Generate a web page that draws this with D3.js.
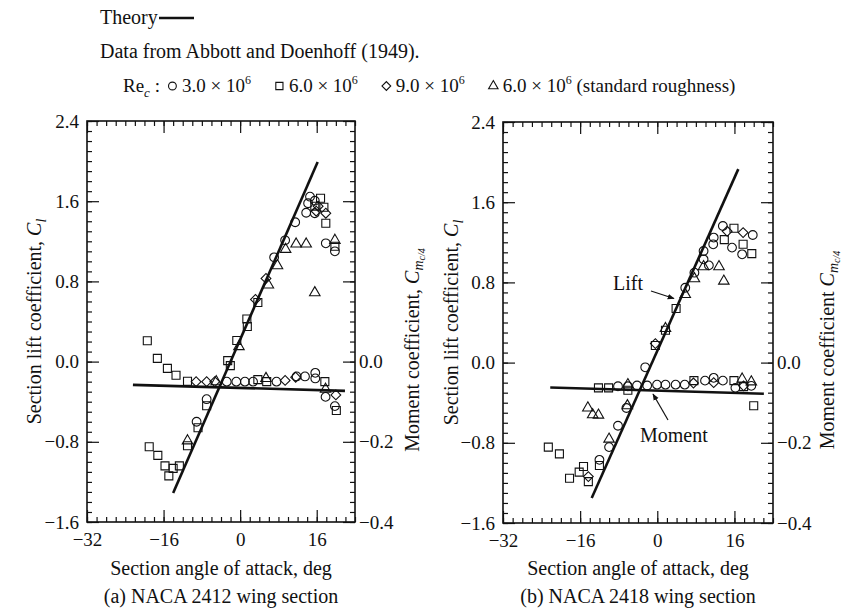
<!DOCTYPE html>
<html>
<head>
<meta charset="utf-8">
<script src="https://cdn.jsdelivr.net/npm/d3@7"></script>
<style>
  body { margin: 0; background: #fff; }
  svg text { font-family: "Liberation Serif", "Times New Roman", serif; fill: #111; white-space: pre; }
</style>
</head>
<body>
<svg id="chart" width="846" height="612"></svg>
<script>
// ---- axis definitions ----
const alphaDomain = [-32, 24];
const liftDomain = [-1.6, 2.4];
const momentDomain = [-0.4, 0.6];
const alphaTickLabels = [-32, -16, 0, 16];
const liftTickLabels = [2.4, 1.6, 0.8, 0.0, -0.8, -1.6];
const momentTickLabels = [0.0, -0.2, -0.4];
const momentMajorTicks = [0.6, 0.4, 0.2, 0.0, -0.2, -0.4];

// ---- legend ----
const reynoldsLabels = ["3.0", "6.0", "9.0", "6.0"];
const reynoldsSymbols = ["circle", "square", "diamond", "triangle"];

// ---- NACA 2412: theory (angle of attack, value) ----
const theory2412Lift = [[-14.0, -1.31], [16.2, 1.99]];
const theory2412Moment = [[-22.4, -0.058], [21.9, -0.073]];

// NACA 2412 lift coefficient data
const lift2412Re3 = [[-9.1, -0.60], [-7.0, -0.375], [7.1, 1.04], [9.4, 1.21], [11.5, 1.39], [13.8, 1.485],
  [14.2, 1.58], [14.6, 1.645], [15.6, 1.605], [15.6, 1.48], [17.9, 1.18], [19.8, 1.10]];
const lift2412Re6 = [[-19.0, -0.85], [-17.2, -0.935], [-15.7, -1.04], [-14.9, -1.14], [-14.0, -1.065],
  [-12.7, -1.04], [-11.0, -0.84], [-8.8, -0.66], [-7.0, -0.44], [-2.6, 0.01], [-2.05, -0.04],
  [-0.7, 0.21], [1.4, 0.425], [1.5, 0.35], [3.7, 0.59], [15.6, 1.55], [16.8, 1.63], [17.5, 1.54],
  [17.9, 1.38], [19.8, 1.15]];
const lift2412Re9 = [[3.2, 0.62], [5.4, 0.83], [15.9, 1.50], [16.3, 1.55], [17.9, 1.48]];
const lift2412Rough = [[-11.0, -0.79], [-0.25, 0.15], [5.9, 0.764], [7.8, 0.957], [9.5, 1.12],
  [11.7, 1.173], [13.8, 1.173], [15.6, 0.687], [19.8, 1.21]];

// NACA 2412 moment coefficient data
const moment2412Re3 = [[-2.8, -0.05], [-0.8, -0.05], [1.0, -0.05], [2.7, -0.05], [7.6, -0.05],
  [11.8, -0.037], [13.55, -0.037], [15.7, -0.028], [15.7, -0.042], [17.85, -0.088], [19.8, -0.111]];
const moment2412Re6 = [[-19.4, 0.052], [-17.3, 0.008], [-15.2, -0.017], [-13.4, -0.034], [-11.0, -0.049],
  [3.7, -0.045], [5.55, -0.05], [17.7, -0.05], [20.1, -0.122]];
const moment2412Re9 = [[-9.2, -0.05], [-7.0, -0.05], [-5.3, -0.05], [9.4, -0.047], [11.6, -0.039], [20.0, -0.083]];
const moment2412Rough = [[-5.0, -0.05], [5.4, -0.042], [17.85, -0.069]];

// ---- NACA 2418 ----
const theory2418Lift = [[-13.6, -1.35], [16.8, 1.93]];
const theory2418Moment = [[-22.2, -0.062], [22.1, -0.0775]];

const lift2418Re3 = [[-12.0, -0.97], [-10.0, -0.843], [-8.15, -0.63], [-6.4, -0.453], [-2.5, -0.047],
  [5.8, 0.747], [7.7, 0.897], [9.6, 1.03], [10.7, 0.97], [9.6, 1.113], [11.7, 1.247], [11.6, 1.18],
  [13.6, 1.363], [15.5, 1.147], [17.6, 1.08], [19.8, 1.273]];
const lift2418Re6 = [[-22.6, -0.843], [-20.3, -0.91], [-18.2, -1.153], [-16.2, -1.093], [-15.3, -1.037],
  [-14.3, -1.187], [-12.0, -1.027], [-0.4, 0.17], [1.7, 0.323], [3.9, 0.54], [13.9, 1.227],
  [15.9, 1.34], [17.8, 1.18], [19.6, 1.087]];
const lift2418Re9 = [[-14.3, -1.137], [-0.4, 0.19], [14.5, 1.31], [17.8, 1.297]];
const lift2418Rough = [[-10.0, -0.763], [-6.2, -0.43], [1.7, 0.34], [5.8, 0.68], [7.7, 0.837],
  [9.6, 0.957], [12.8, 0.957], [13.8, 0.813]];

const moment2418Re3 = [[-8.15, -0.059], [-6.1, -0.059], [-4.2, -0.057], [-2.1, -0.057], [-0.05, -0.055],
  [1.7, -0.055], [3.8, -0.055], [5.7, -0.055], [9.9, -0.045], [11.7, -0.038], [13.6, -0.045],
  [16.2, -0.063], [19.5, -0.058]];
const moment2418Re6 = [[-12.2, -0.063], [-10.1, -0.063], [-6.1, -0.069], [7.6, -0.045], [15.9, -0.045],
  [17.9, -0.06], [20.0, -0.1075]];
const moment2418Re9 = [[7.5, -0.051], [11.7, -0.05], [17.9, -0.058]];
const moment2418Rough = [[-14.4, -0.113], [-13.4, -0.13], [-12.2, -0.131], [-6.1, -0.055], [17.6, -0.041], [19.5, -0.048]];

const svg = d3.select("#chart");
const INK = "#111";

// hollow marker path for each Reynolds-number series
function markerPath(kind, scale = 1) {
  if (kind === "circle") return d3.symbol(d3.symbolCircle, 60 * scale)();
  if (kind === "square") return d3.symbol(d3.symbolSquare, 64 * scale)();
  if (kind === "diamond") return d3.symbol(d3.symbolSquare, 48 * scale)();
  return d3.symbol(d3.symbolTriangle, 48 * scale)();
}
function drawMarkers(g, data, kind, x, y) {
  g.selectAll(null).data(data).enter().append("path")
    .attr("d", markerPath(kind))
    .attr("transform", d => `translate(${x(d[0])},${y(d[1])})` + (kind === "diamond" ? " rotate(45)" : ""))
    .attr("fill", "none").attr("stroke", INK).attr("stroke-width", 1.1);
}

function styleAxis(sel, size) {
  sel.attr("font-family", null).attr("font-size", null);
  sel.select(".domain").remove();
  sel.selectAll(".tick line").attr("stroke", INK).attr("stroke-width", 1.2);
  sel.selectAll(".tick text").style("font-size", size + "px").attr("fill", INK);
}

function drawPanel(cfg) {
  const { x0, x1, y0, y1 } = cfg;
  const x = d3.scaleLinear().domain(alphaDomain).range([x0, x1]);
  const y = d3.scaleLinear().domain(liftDomain).range([y1, y0]);
  const ym = d3.scaleLinear().domain(momentDomain).range([y1, y0]);
  const g = svg.append("g");

  const minorX = d3.range(-32, 25, 2);
  const minorY = d3.range(-16, 25).map(v => v / 10);
  const minorM = d3.range(-16, 25).map(v => v / 40);
  const fmtA = d3.format("d"), fmtC = d3.format(".1f");

  // bottom
  g.append("g").attr("transform", `translate(0,${y1})`)
    .call(d3.axisBottom(x).tickValues(minorX).tickSize(-5).tickFormat("")).call(s => styleAxis(s, 19));
  g.append("g").attr("transform", `translate(0,${y1})`)
    .call(d3.axisBottom(x).tickValues(alphaTickLabels).tickSize(-12).tickPadding(11).tickFormat(fmtA))
    .call(s => styleAxis(s, 19));
  // top
  g.append("g").attr("transform", `translate(0,${y0})`)
    .call(d3.axisTop(x).tickValues(minorX).tickSize(-5).tickFormat("")).call(s => styleAxis(s, 19));
  g.append("g").attr("transform", `translate(0,${y0})`)
    .call(d3.axisTop(x).tickValues(alphaTickLabels).tickSize(-12).tickFormat("")).call(s => styleAxis(s, 19));
  // left (lift)
  g.append("g").attr("transform", `translate(${x0},0)`)
    .call(d3.axisLeft(y).tickValues(minorY).tickSize(-5).tickFormat("")).call(s => styleAxis(s, 19));
  g.append("g").attr("transform", `translate(${x0},0)`)
    .call(d3.axisLeft(y).tickValues(liftTickLabels).tickSize(-12).tickPadding(8).tickFormat(fmtC))
    .call(s => styleAxis(s, 19));
  // right (moment)
  g.append("g").attr("transform", `translate(${x1},0)`)
    .call(d3.axisRight(ym).tickValues(minorM).tickSize(-5).tickFormat("")).call(s => styleAxis(s, 19));
  g.append("g").attr("transform", `translate(${x1},0)`)
    .call(d3.axisRight(ym).tickValues(momentMajorTicks).tickSize(-12).tickPadding(4)
      .tickFormat(v => momentTickLabels.some(m => Math.abs(m - v) < 1e-9) ? fmtC(v) : ""))
    .call(s => styleAxis(s, 19));

  // frame
  g.append("rect").attr("x", x0).attr("y", y0).attr("width", x1 - x0).attr("height", y1 - y0)
    .attr("fill", "none").attr("stroke", INK).attr("stroke-width", 1.6);

  // theory lines
  const lineL = d3.line().x(d => x(d[0])).y(d => y(d[1]));
  const lineM = d3.line().x(d => x(d[0])).y(d => ym(d[1]));
  g.append("path").attr("d", lineL(cfg.theoryLift)).attr("stroke", INK).attr("stroke-width", 2.6).attr("fill", "none");
  g.append("path").attr("d", lineM(cfg.theoryMoment)).attr("stroke", INK).attr("stroke-width", 2.6).attr("fill", "none");

  // measured data
  cfg.lift.forEach((data, i) => drawMarkers(g, data, reynoldsSymbols[i], x, y));
  cfg.moment.forEach((data, i) => drawMarkers(g, data, reynoldsSymbols[i], x, ym));

  // axis titles
  const cx = (x0 + x1) / 2;
  g.append("text").attr("x", cx).attr("y", 575).attr("text-anchor", "middle").style("font-size", "20px")
    .text("Section angle of attack, deg");
  g.append("text").attr("x", cx).attr("y", 603).attr("text-anchor", "middle").style("font-size", "20px")
    .text(cfg.caption);

  const lt = g.append("text").attr("text-anchor", "middle").style("font-size", "20px")
    .attr("transform", `translate(${cfg.liftTitleX},${(y0 + y1) / 2}) rotate(-90)`);
  lt.append("tspan").text("Section lift coefficient, ");
  lt.append("tspan").attr("font-style", "italic").text("C");
  lt.append("tspan").attr("font-style", "italic").style("font-size", "14px").attr("dy", 5).text("l");

  const mt = g.append("text").attr("text-anchor", "middle").style("font-size", "20px")
    .attr("transform", `translate(${cfg.momentTitleX},${cfg.momentTitleY}) rotate(-90)`);
  mt.append("tspan").text(cfg.momentTitle);
  mt.append("tspan").attr("font-style", "italic").text("C");
  mt.append("tspan").attr("font-style", "italic").style("font-size", "14px").attr("dy", 4).text("m");
  mt.append("tspan").attr("font-style", "italic").style("font-size", "10px").attr("dy", 2).text("c/4");

  return { x, y, ym, g };
}

drawPanel({
  x0: 87, x1: 355, y0: 121, y1: 522,
  theoryLift: theory2412Lift, theoryMoment: theory2412Moment,
  lift: [lift2412Re3, lift2412Re6, lift2412Re9, lift2412Rough],
  moment: [moment2412Re3, moment2412Re6, moment2412Re9, moment2412Rough],
  caption: "(a) NACA 2412 wing section",
  liftTitleX: 41, momentTitleX: 419, momentTitleY: 350,
  momentTitle: "Moment coefficient, "
});

drawPanel({
  x0: 503, x1: 773, y0: 122, y1: 523,
  theoryLift: theory2418Lift, theoryMoment: theory2418Moment,
  lift: [lift2418Re3, lift2418Re6, lift2418Re9, lift2418Rough],
  moment: [moment2418Re3, moment2418Re6, moment2418Re9, moment2418Rough],
  caption: "(b) NACA 2418 wing section",
  liftTitleX: 458, momentTitleX: 834, momentTitleY: 350,
  momentTitle: "Moment coefficient "
});

// annotation arrows on the NACA 2418 panel
svg.append("defs").append("marker").attr("id", "arrowhead")
  .attr("viewBox", "0 0 10 10").attr("refX", 9).attr("refY", 5)
  .attr("markerWidth", 7).attr("markerHeight", 7).attr("markerUnits", "userSpaceOnUse")
  .attr("orient", "auto")
  .append("path").attr("d", "M0,1 L10,5 L0,9 Z").attr("fill", INK);

svg.append("text").attr("x", 613).attr("y", 290).style("font-size", "20px").text("Lift");
svg.append("line").attr("x1", 651).attr("y1", 291).attr("x2", 674).attr("y2", 298.5)
  .attr("stroke", INK).attr("stroke-width", 1.2).attr("marker-end", "url(#arrowhead)");
svg.append("text").attr("x", 640).attr("y", 442).style("font-size", "20px").text("Moment");
svg.append("line").attr("x1", 668).attr("y1", 420).attr("x2", 653).attr("y2", 394)
  .attr("stroke", INK).attr("stroke-width", 1.2).attr("marker-end", "url(#arrowhead)");

// ---- header ----
const hdr = svg.append("g");
hdr.append("text").attr("x", 100).attr("y", 24).style("font-size", "20px").text("Theory");
hdr.append("line").attr("x1", 159).attr("x2", 194).attr("y1", 18).attr("y2", 18)
  .attr("stroke", INK).attr("stroke-width", 2.6);
hdr.append("text").attr("x", 100).attr("y", 58).style("font-size", "20px")
  .text("Data from Abbott and Doenhoff (1949).");

// Reynolds-number legend laid out piece by piece
let penX = 123;
const baseY = 92;
function piece(str, size, dy = 0, italic = false) {
  const t = hdr.append("text").attr("x", penX).attr("y", baseY + dy).style("font-size", size + "px").text(str);
  if (italic) t.attr("font-style", "italic");
  penX += t.node().getComputedTextLength();
}
piece("Re", 19);
piece("c", 13, 5, true);
piece("\u00a0:", 19);
reynoldsLabels.forEach((lab, i) => {
  penX += i === 0 ? 8 : 24;
  hdr.append("path").attr("d", markerPath(reynoldsSymbols[i], 0.8))
    .attr("transform", `translate(${penX + 4.5},${baseY - 6})` + (reynoldsSymbols[i] === "diamond" ? " rotate(45)" : ""))
    .attr("fill", "none").attr("stroke", INK).attr("stroke-width", 1.1);
  penX += 14;
  piece(lab + " \u00d7 10", 19);
  piece("6", 12, -8);
  if (i === reynoldsLabels.length - 1) piece("\u00a0(standard roughness)", 19);
});
</script>
</body>
</html>
